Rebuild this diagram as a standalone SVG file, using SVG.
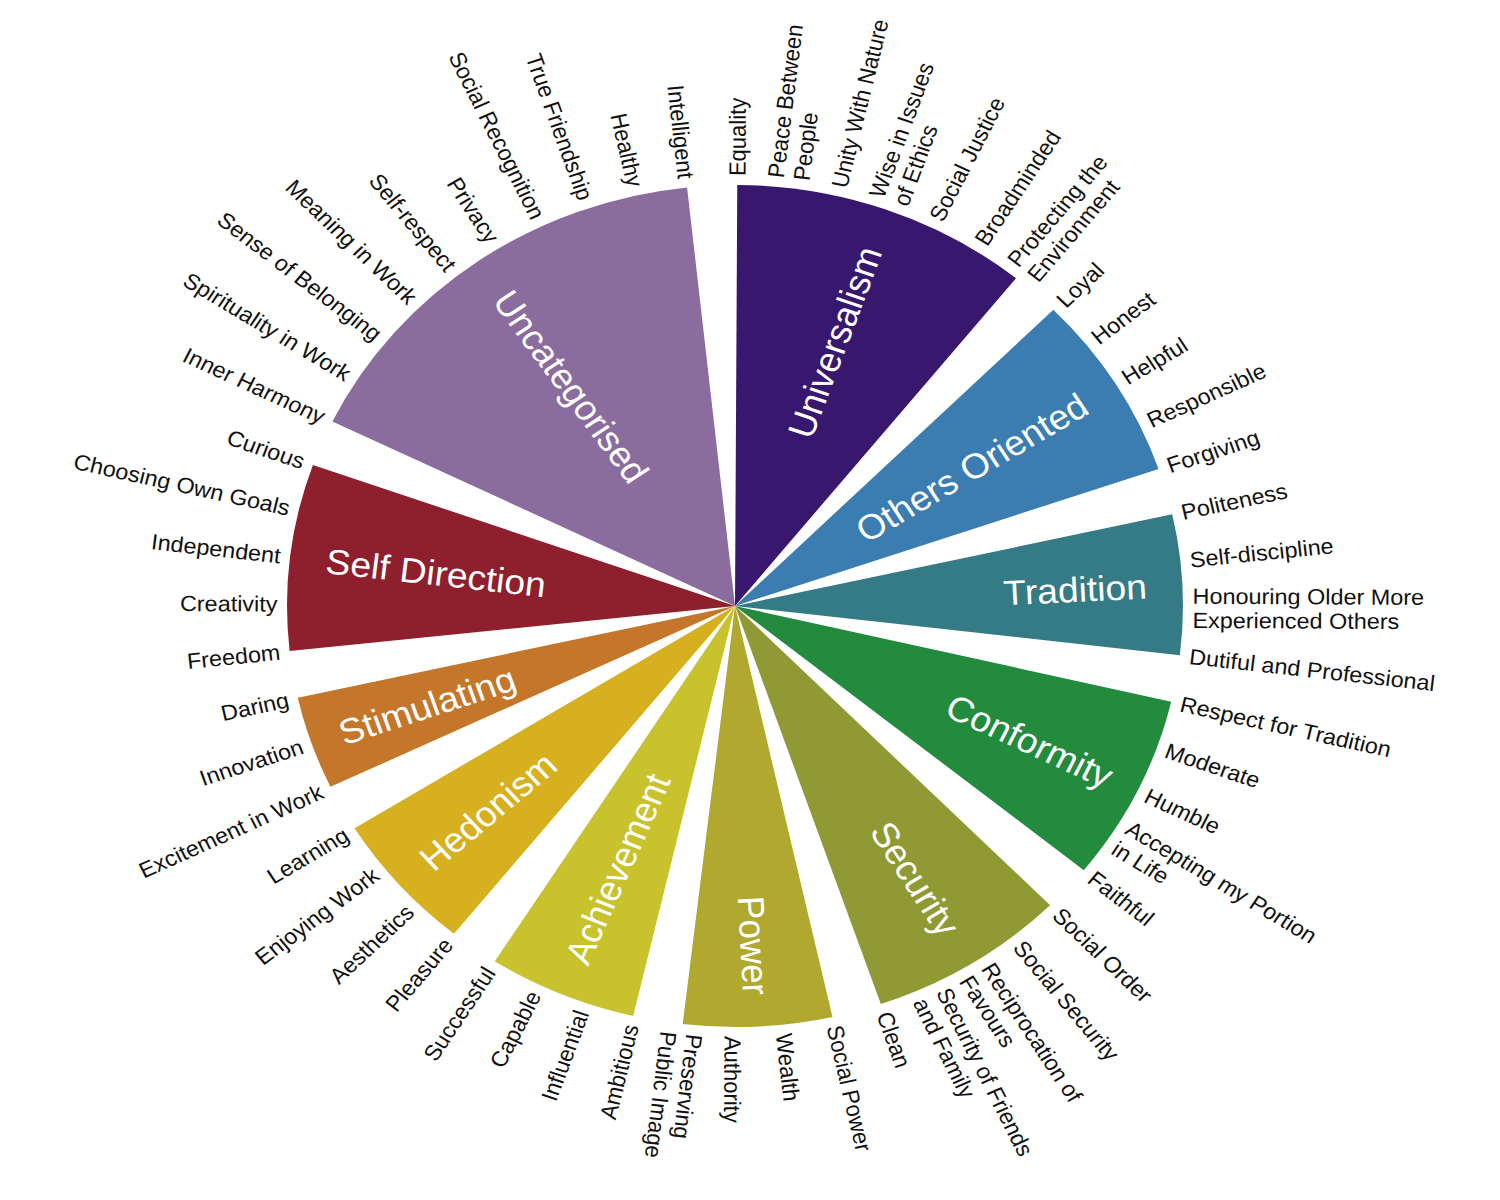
<svg xmlns="http://www.w3.org/2000/svg" width="1500" height="1200" viewBox="0 0 1500 1200">
<style>
.l{font-family:"Liberation Sans",Arial,sans-serif;font-size:22px;fill:#111}
.r{font-family:"Liberation Sans",Arial,sans-serif;font-size:22px;fill:#111;text-anchor:end}
.cat{font-family:"Liberation Sans",Arial,sans-serif;font-size:35px;fill:#fff;text-anchor:middle}
</style>
<rect width="1500" height="1200" fill="#fff"/>
<g transform="translate(735,606) scale(1.064,1)">
 <g id="uncategorised">
  <path d="M0,0 L-378.39,-184.55 A421,421 0 0 1 -45.03,-418.59 Z" fill="#8A6D9E"/>
  <text class="cat" dy="0.35em" transform="rotate(234.93) translate(268,0) rotate(180)">Uncategorised</text>
  <text class="r" dy="0.35em" transform="rotate(206) translate(430,0) rotate(180)">Inner Harmony</text>
  <text class="r" dy="0.35em" transform="rotate(212.43) translate(430,0) rotate(180)">Spirituality in Work</text>
  <text class="r" dy="0.35em" transform="rotate(218.86) translate(430,0) rotate(180)">Sense of Belonging</text>
  <text class="r" dy="0.35em" transform="rotate(225.29) translate(430,0) rotate(180)">Meaning in Work</text>
  <text class="r" dy="0.35em" transform="rotate(231.71) translate(430,0) rotate(180)">Self-respect</text>
  <text class="r" dy="0.35em" transform="rotate(238.14) translate(430,0) rotate(180)">Privacy</text>
  <text class="r" dy="0.35em" transform="rotate(244.57) translate(430,0) rotate(180)">Social Recognition</text>
  <text class="r" dy="0.35em" transform="rotate(251) translate(430,0) rotate(180)">True Friendship</text>
  <text class="r" dy="0.35em" transform="rotate(257.43) translate(430,0) rotate(180)">Healthy</text>
  <text class="r" dy="0.35em" transform="rotate(263.86) translate(430,0) rotate(180)">Intelligent</text>
 </g>
 <g id="universalism">
  <path d="M0,0 L2.13,-421 A421,421 0 0 1 264.14,-327.83 Z" fill="#38176F"/>
  <text class="cat" dy="0.35em" transform="rotate(289.57) translate(280,0)">Universalism</text>
  <text class="l" dy="0.35em" transform="rotate(270.29) translate(430,0)">Equality</text>
  <text class="l" transform="rotate(276.71) translate(430,0)"><tspan x="0" dy="-0.2em">Peace Between</tspan><tspan x="0" dy="1.1em">People</tspan></text>
  <text class="l" dy="0.35em" transform="rotate(283.14) translate(430,0)">Unity With Nature</text>
  <text class="l" transform="rotate(289.57) translate(430,0)"><tspan x="0" dy="-0.2em">Wise in Issues</tspan><tspan x="0" dy="1.1em">of Ethics</tspan></text>
  <text class="l" dy="0.35em" transform="rotate(296) translate(430,0)">Social Justice</text>
  <text class="l" dy="0.35em" transform="rotate(302.43) translate(430,0)">Broadminded</text>
  <text class="l" transform="rotate(308.86) translate(430,0)"><tspan x="0" dy="-0.2em">Protecting the</tspan><tspan x="0" dy="1.1em">Environment</tspan></text>
 </g>
 <g id="others-oriented">
  <path d="M0,0 L299.2,-296.19 A421,421 0 0 1 398.06,-137.06 Z" fill="#3B7DB1"/>
  <text class="cat" dy="0.35em" transform="rotate(328.14) translate(262,0)">Others Oriented</text>
  <text class="l" dy="0.35em" transform="rotate(315.29) translate(430,0)">Loyal</text>
  <text class="l" dy="0.35em" transform="rotate(321.71) translate(430,0)">Honest</text>
  <text class="l" dy="0.35em" transform="rotate(328.14) translate(430,0)">Helpful</text>
  <text class="l" dy="0.35em" transform="rotate(334.57) translate(430,0)">Responsible</text>
  <text class="l" dy="0.35em" transform="rotate(341) translate(430,0)">Forgiving</text>
 </g>
 <g id="tradition">
  <path d="M0,0 L410.91,-91.63 A421,421 0 0 1 418.12,49.19 Z" fill="#347B86"/>
  <text class="cat" dy="0.35em" transform="rotate(357.07) translate(320,0)">Tradition</text>
  <text class="l" dy="0.35em" transform="rotate(347.43) translate(430,0)">Politeness</text>
  <text class="l" dy="0.35em" transform="rotate(353.86) translate(430,0)">Self-discipline</text>
  <text class="l" transform="rotate(0.29) translate(430,0)"><tspan x="0" dy="-0.2em">Honouring Older More</tspan><tspan x="0" dy="1.1em">Experienced Others</tspan></text>
  <text class="l" dy="0.35em" transform="rotate(6.71) translate(430,0)">Dutiful and Professional</text>
 </g>
 <g id="conformity">
  <path d="M0,0 L409.97,95.71 A421,421 0 0 1 327.83,264.14 Z" fill="#228B3E"/>
  <text class="cat" dy="0.35em" transform="rotate(26) translate(308,0)">Conformity</text>
  <text class="l" dy="0.35em" transform="rotate(13.14) translate(430,0)">Respect for Tradition</text>
  <text class="l" dy="0.35em" transform="rotate(19.57) translate(430,0)">Moderate</text>
  <text class="l" dy="0.35em" transform="rotate(26) translate(430,0)">Humble</text>
  <text class="l" transform="rotate(32.43) translate(430,0)"><tspan x="0" dy="-0.2em">Accepting my Portion</tspan><tspan x="0" dy="1.1em">in Life</tspan></text>
  <text class="l" dy="0.35em" transform="rotate(38.86) translate(430,0)">Faithful</text>
 </g>
 <g id="security">
  <path d="M0,0 L296.18,299.2 A421,421 0 0 1 137.06,398.06 Z" fill="#8F9A34"/>
  <text class="cat" dy="0.35em" transform="rotate(58.14) translate(321,0)">Security</text>
  <text class="l" dy="0.35em" transform="rotate(45.29) translate(430,0)">Social Order</text>
  <text class="l" dy="0.35em" transform="rotate(51.71) translate(430,0)">Social Security</text>
  <text class="l" transform="rotate(58.14) translate(430,0)"><tspan x="0" dy="-0.2em">Reciprocation of</tspan><tspan x="0" dy="1.1em">Favours</tspan></text>
  <text class="l" transform="rotate(64.57) translate(430,0)"><tspan x="0" dy="-0.2em">Security of Friends</tspan><tspan x="0" dy="1.1em">and Family</tspan></text>
  <text class="l" dy="0.35em" transform="rotate(71) translate(430,0)">Clean</text>
 </g>
 <g id="power">
  <path d="M0,0 L91.63,410.91 A421,421 0 0 1 -49.19,418.12 Z" fill="#B0A82F"/>
  <text class="cat" dy="0.35em" transform="rotate(87.07) translate(340,0)">Power</text>
  <text class="l" dy="0.35em" transform="rotate(77.43) translate(430,0)">Social Power</text>
  <text class="l" dy="0.35em" transform="rotate(83.86) translate(430,0)">Wealth</text>
  <text class="l" dy="0.35em" transform="rotate(90.29) translate(430,0)">Authority</text>
  <text class="l" transform="rotate(96.71) translate(430,0)"><tspan x="0" dy="-0.2em">Preserving</tspan><tspan x="0" dy="1.1em">Public Image</tspan></text>
 </g>
 <g id="achievement">
  <path d="M0,0 L-95.71,409.98 A421,421 0 0 1 -225.77,355.35 Z" fill="#C8C22C"/>
  <text class="cat" dy="0.35em" transform="rotate(112.79) translate(285,0) rotate(180)">Achievement</text>
  <text class="r" dy="0.35em" transform="rotate(103.14) translate(430,0) rotate(180)">Ambitious</text>
  <text class="r" dy="0.35em" transform="rotate(109.57) translate(430,0) rotate(180)">Influential</text>
  <text class="r" dy="0.35em" transform="rotate(116) translate(430,0) rotate(180)">Capable</text>
  <text class="r" dy="0.35em" transform="rotate(122.43) translate(430,0) rotate(180)">Successful</text>
 </g>
 <g id="hedonism">
  <path d="M0,0 L-264.14,327.83 A421,421 0 0 1 -357.57,222.23 Z" fill="#D7B020"/>
  <text class="cat" dy="0.35em" transform="rotate(138.5) translate(310,0) rotate(180)">Hedonism</text>
  <text class="r" dy="0.35em" transform="rotate(128.86) translate(430,0) rotate(180)">Pleasure</text>
  <text class="r" dy="0.35em" transform="rotate(135.29) translate(430,0) rotate(180)">Aesthetics</text>
  <text class="r" dy="0.35em" transform="rotate(141.71) translate(430,0) rotate(180)">Enjoying Work</text>
  <text class="r" dy="0.35em" transform="rotate(148.14) translate(430,0) rotate(180)">Learning</text>
 </g>
 <g id="stimulating">
  <path d="M0,0 L-380.22,180.79 A421,421 0 0 1 -410.91,91.63 Z" fill="#C4762A"/>
  <text class="cat" dy="0.35em" transform="rotate(161) translate(306,0) rotate(180)">Stimulating</text>
  <text class="r" dy="0.35em" transform="rotate(154.57) translate(430,0) rotate(180)">Excitement in Work</text>
  <text class="r" dy="0.35em" transform="rotate(161) translate(430,0) rotate(180)">Innovation</text>
  <text class="r" dy="0.35em" transform="rotate(167.43) translate(430,0) rotate(180)">Daring</text>
 </g>
 <g id="self-direction">
  <path d="M0,0 L-418.58,45.03 A421,421 0 0 1 -396.68,-141.02 Z" fill="#8E1F2D"/>
  <text class="cat" dy="0.35em" transform="rotate(186.71) translate(283,0) rotate(180)">Self Direction</text>
  <text class="r" dy="0.35em" transform="rotate(173.86) translate(430,0) rotate(180)">Freedom</text>
  <text class="r" dy="0.35em" transform="rotate(180.29) translate(430,0) rotate(180)">Creativity</text>
  <text class="r" dy="0.35em" transform="rotate(186.71) translate(430,0) rotate(180)">Independent</text>
  <text class="r" dy="0.35em" transform="rotate(193.14) translate(430,0) rotate(180)">Choosing Own Goals</text>
  <text class="r" dy="0.35em" transform="rotate(199.57) translate(430,0) rotate(180)">Curious</text>
 </g>
</g>
<g id="connectors"/>
</svg>
